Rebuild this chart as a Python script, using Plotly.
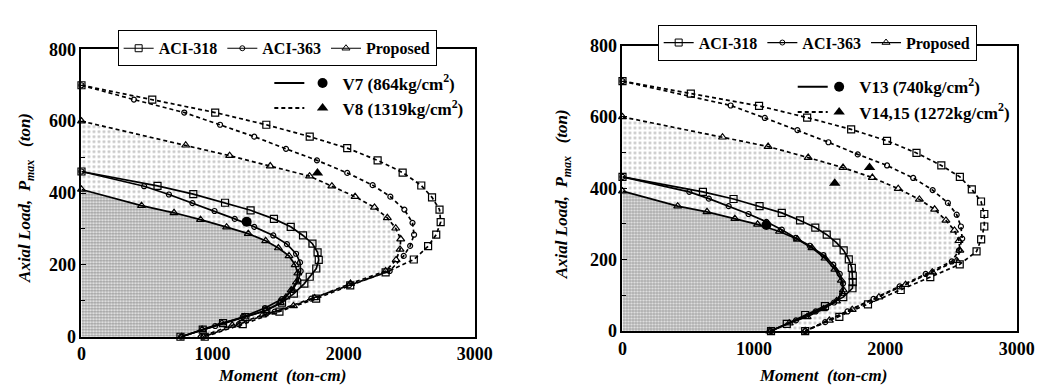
import plotly.graph_objects as go

W, H = 1061, 390
FONT = "Liberation Serif"

M_TICKS = [0, 1000, 2000, 3000]
P_TICKS = [0, 200, 400, 600, 800]

# ---------------- Left panel ----------------
# V8 (1319 kg/cm2) : dashed
L8_318_M = [0, 540, 1020, 1410, 1741, 2027, 2259, 2450, 2592, 2674, 2731, 2740, 2706, 2644, 2535, 2320, 2050, 1790, 1510, 1230, 940]
L8_318_P = [700, 660, 624, 590, 557, 525, 491, 457, 421, 388, 354, 319, 284, 252, 215, 179, 143, 106, 70, 35, 0]
L8_363_M = [0, 400, 784, 1057, 1318, 1560, 1796, 2027, 2221, 2356, 2463, 2525, 2537, 2507, 2458, 2351, 2040, 1753, 1474, 1200, 930]
L8_363_P = [700, 660, 624, 590, 557, 523, 491, 456, 422, 390, 354, 317, 284, 253, 225, 183, 143, 106, 70, 35, 0]
L8_PRO_M = [0, 795, 1130, 1440, 1740, 1910, 2087, 2235, 2333, 2397, 2435, 2430, 2400, 2320, 2052, 1778, 1617, 1381, 1150, 910]
L8_PRO_P = [600, 533, 504, 475, 447, 419, 390, 360, 331, 302, 272, 243, 214, 183, 148, 108, 86, 60, 32, 0]
# V7 (864 kg/cm2) : solid
L7_318_M = [0, 580, 853, 1095, 1290, 1468, 1596, 1690, 1762, 1801, 1810, 1791, 1741, 1700, 1620, 1530, 1410, 1250, 1080, 925, 755]
L7_318_P = [460, 420, 397, 373, 352, 328, 306, 282, 259, 235, 214, 190, 167, 148, 120, 95, 73, 55, 38, 20, 0]
L7_363_M = [0, 478, 667, 846, 1015, 1169, 1318, 1463, 1567, 1637, 1667, 1672, 1654, 1610, 1530, 1400, 1230, 1020, 760]
L7_363_P = [460, 419, 396, 372, 350, 328, 306, 282, 258, 231, 207, 183, 157, 130, 105, 80, 55, 30, 0]
L7_PRO_M = [0, 458, 706, 908, 1107, 1272, 1405, 1502, 1583, 1630, 1650, 1640, 1600, 1560, 1517, 1405, 1244, 1070, 920, 765]
L7_PRO_P = [410, 365, 345, 326, 305, 287, 267, 247, 225, 200, 177, 152, 130, 110, 95, 73, 55, 38, 20, 0]
# test results
L7_TEST_M, L7_TEST_P = [1260], [320]
L8_TEST_M, L8_TEST_P = [1800], [456]

# ---------------- Right panel ----------------
# V14,15 (1272 kg/cm2) : dashed
R14_318_M = [0, 520, 1039, 1405, 1740, 2013, 2237, 2426, 2567, 2658, 2728, 2753, 2753, 2729, 2694, 2566, 2342, 2117, 1868, 1650, 1390]
R14_318_P = [700, 665, 631, 598, 565, 533, 499, 464, 432, 397, 363, 328, 293, 257, 223, 187, 151, 115, 75, 40, 0]
R14_363_M = [0, 823, 1083, 1331, 1567, 1790, 2013, 2212, 2360, 2476, 2543, 2575, 2585, 2560, 2506, 2307, 2109, 1910, 1712, 1542, 1390]
R14_363_P = [700, 632, 597, 563, 529, 495, 464, 429, 395, 359, 326, 293, 259, 226, 195, 160, 125, 90, 55, 25, 0]
R14_PRO_M = [0, 761, 1108, 1413, 1678, 1901, 2098, 2259, 2375, 2461, 2526, 2560, 2567, 2543, 2357, 2154, 1951, 1748, 1574, 1390]
R14_PRO_P = [600, 543, 517, 486, 458, 430, 399, 369, 341, 310, 282, 253, 226, 197, 165, 130, 95, 60, 30, 0]
# V13 (740 kg/cm2) : solid
R13_318_M = [0, 612, 845, 1043, 1212, 1351, 1467, 1554, 1628, 1683, 1722, 1745, 1752, 1752, 1750, 1680, 1540, 1390, 1250, 1130]
R13_318_P = [432, 390, 370, 350, 331, 310, 290, 270, 248, 226, 201, 177, 155, 137, 120, 95, 70, 45, 20, 0]
R13_363_M = [0, 508, 657, 808, 959, 1095, 1212, 1318, 1425, 1529, 1604, 1653, 1678, 1673, 1610, 1470, 1320, 1130]
R13_363_P = [432, 390, 371, 350, 328, 306, 284, 261, 239, 213, 186, 160, 133, 106, 80, 55, 30, 0]
R13_PRO_M = [0, 420, 643, 855, 1028, 1195, 1331, 1442, 1541, 1616, 1665, 1680, 1628, 1529, 1405, 1269, 1120]
R13_PRO_P = [392, 350, 334, 315, 299, 279, 257, 233, 204, 173, 142, 115, 84, 62, 40, 22, 0]
R13_TEST_M, R13_TEST_P = [1095], [297]
R14_TEST_M, R14_TEST_P = [1880, 1615], [458, 414]

LEFT_KEY = ["V7 (864kg/cm<sup>2</sup>)", "V8 (1319kg/cm<sup>2</sup>)"]
RIGHT_KEY = ["V13 (740kg/cm<sup>2</sup>)", "V14,15 (1272kg/cm<sup>2</sup>)"]
METHODS = ["ACI-318", "ACI-363", "Proposed"]

SYM = {"ACI-318": ("square-open", 7), "ACI-363": ("circle-open", 5), "Proposed": ("triangle-up-open", 7)}
DASH = "4px,3px"

fig = go.Figure()


def region(m, p, ax, fg, size, solidity, bg):
    xs = list(m) + [0]
    ys = list(p) + [0]
    fig.add_trace(go.Scatter(x=xs, y=ys, xaxis=ax[0], yaxis=ax[1], mode="lines",
                             line=dict(width=0, color="rgba(0,0,0,0)"), fill="toself",
                             fillcolor=bg,
                             fillpattern=dict(shape=".", size=size, solidity=solidity,
                                              fgcolor=fg, bgcolor=bg),
                             hoverinfo="skip", showlegend=False))


def curve(m, p, ax, method, dash):
    sym, sz = SYM[method]
    fig.add_trace(go.Scatter(x=m, y=p, xaxis=ax[0], yaxis=ax[1], mode="lines+markers",
                             line=dict(color="black", width=1.7, dash=dash),
                             marker=dict(symbol=sym, size=sz, color="black",
                                         line=dict(color="black", width=1.2)),
                             cliponaxis=False, showlegend=False))


LA = ("x", "y")
RA = ("x2", "y2")

# shaded regions
region(L8_PRO_M, L8_PRO_P, LA, "#8a8a8a", 5, 0.25, "#ffffff")
region(L7_PRO_M, L7_PRO_P, LA, "#2a2a2a", 3, 0.6, "#ffffff")
region(R14_PRO_M, R14_PRO_P, RA, "#8a8a8a", 5, 0.25, "#ffffff")
region(R13_PRO_M, R13_PRO_P, RA, "#2a2a2a", 3, 0.6, "#ffffff")

# curves
for m, p, meth in [(L8_318_M, L8_318_P, "ACI-318"), (L8_363_M, L8_363_P, "ACI-363"), (L8_PRO_M, L8_PRO_P, "Proposed")]:
    curve(m, p, LA, meth, DASH)
for m, p, meth in [(L7_318_M, L7_318_P, "ACI-318"), (L7_363_M, L7_363_P, "ACI-363"), (L7_PRO_M, L7_PRO_P, "Proposed")]:
    curve(m, p, LA, meth, "solid")
for m, p, meth in [(R14_318_M, R14_318_P, "ACI-318"), (R14_363_M, R14_363_P, "ACI-363"), (R14_PRO_M, R14_PRO_P, "Proposed")]:
    curve(m, p, RA, meth, DASH)
for m, p, meth in [(R13_318_M, R13_318_P, "ACI-318"), (R13_363_M, R13_363_P, "ACI-363"), (R13_PRO_M, R13_PRO_P, "Proposed")]:
    curve(m, p, RA, meth, "solid")

# test points (with legend entries: marker + text)
for m, p, ax, sym, name, lg in [
    (L7_TEST_M, L7_TEST_P, LA, "circle", LEFT_KEY[0], "legend3"),
    (L8_TEST_M, L8_TEST_P, LA, "triangle-up", LEFT_KEY[1], "legend3"),
    (R13_TEST_M, R13_TEST_P, RA, "circle", RIGHT_KEY[0], "legend6"),
    (R14_TEST_M, R14_TEST_P, RA, "triangle-up", RIGHT_KEY[1], "legend6"),
]:
    fig.add_trace(go.Scatter(x=m, y=p, xaxis=ax[0], yaxis=ax[1], mode="markers",
                             marker=dict(symbol=sym, size=10, color="black"),
                             name=name, legend=lg, showlegend=True, cliponaxis=False))

# legend-only entries: line styles
for ax, lg in [(LA, "legend2"), (RA, "legend5")]:
    for dash in ["solid", DASH]:
        fig.add_trace(go.Scatter(x=[None], y=[None], xaxis=ax[0], yaxis=ax[1], mode="lines",
                                 line=dict(color="black", width=2, dash=dash),
                                 name=" ", legend=lg, showlegend=True))
# legend-only entries: methods (boxed legends)
for ax, lg in [(LA, "legend"), (RA, "legend4")]:
    for meth in METHODS:
        sym, sz = SYM[meth]
        fig.add_trace(go.Scatter(x=[None], y=[None], xaxis=ax[0], yaxis=ax[1], mode="lines+markers",
                                 line=dict(color="black", width=1.2),
                                 marker=dict(symbol=sym, size=sz, color="black", line=dict(width=1)),
                                 name=meth, legend=lg, showlegend=True))

tickfont = dict(family=FONT, size=18, color="black", weight="bold")


def xax(domain):
    return dict(domain=domain, range=[0, 3000], tickvals=M_TICKS, ticks="", showgrid=False, zeroline=False,
                showline=True, linecolor="black", linewidth=2, mirror=True, tickfont=tickfont, fixedrange=True)


def yax(domain, anchor):
    return dict(domain=domain, range=[0, 800], tickvals=P_TICKS, ticks="inside", ticklen=5, tickcolor="black",
                minor=dict(tickvals=[100, 300, 500, 700], ticks="inside", ticklen=4, tickcolor="black"),
                showgrid=False, zeroline=False, anchor=anchor,
                showline=True, linecolor="black", linewidth=2, mirror=True, tickfont=tickfont, fixedrange=True)


boxfont = dict(family=FONT, size=16, color="black", weight="bold")
keyfont = dict(family=FONT, size=17, color="black", weight="bold")

fig.update_layout(
    width=W, height=H, margin=dict(l=0, r=0, t=0, b=0),
    paper_bgcolor="white", plot_bgcolor="white",
    xaxis=dict(xax([70 / W, 472 / W]), anchor="y"),
    yaxis=yax([1 - 336 / H, 1 - 33 / H], "x"),
    xaxis2=dict(xax([623 / W, 1026 / W]), anchor="y2"),
    yaxis2=yax([1 - 330 / H, 1 - 29 / H], "x2"),
    legend=dict(x=270 / W, xanchor="center", y=1 - 13 / H, yanchor="top", orientation="h",
                bordercolor="black", borderwidth=1, bgcolor="white", font=boxfont, traceorder="normal"),
    legend4=dict(x=822 / W, xanchor="center", y=1 - 7 / H, yanchor="top", orientation="h",
                 bordercolor="black", borderwidth=1, bgcolor="white", font=boxfont, traceorder="normal"),
    legend2=dict(x=262 / W, xanchor="left", y=1 - 50 / H, yanchor="top", bgcolor="rgba(0,0,0,0)",
                 font=keyfont, traceorder="normal"),
    legend3=dict(x=296 / W, xanchor="left", y=1 - 50 / H, yanchor="top", bgcolor="rgba(0,0,0,0)",
                 font=keyfont, traceorder="normal"),
    legend5=dict(x=797 / W, xanchor="left", y=1 - 54 / H, yanchor="top", bgcolor="rgba(0,0,0,0)",
                 font=keyfont, traceorder="normal"),
    legend6=dict(x=824 / W, xanchor="left", y=1 - 54 / H, yanchor="top", bgcolor="rgba(0,0,0,0)",
                 font=keyfont, traceorder="normal"),
    showlegend=True,
)

title_font = dict(family=FONT, size=17, color="black", weight="bold", style="italic")
for x, y, txt, ang in [
    (14, 190, "Axial Load,  P<sub>max</sub>   (ton)", -90),
    (563, 186, "Axial Load,  P<sub>max</sub>   (ton)", -90),
    (275, 377, "Moment  (ton-cm)", 0),
    (828, 377, "Moment  (ton-cm)", 0),
]:
    fig.add_annotation(x=x / W, y=1 - y / H, xref="paper", yref="paper", text=txt, showarrow=False,
                       textangle=ang, font=title_font, xanchor="center", yanchor="middle")

fig.write_html("out.html")
